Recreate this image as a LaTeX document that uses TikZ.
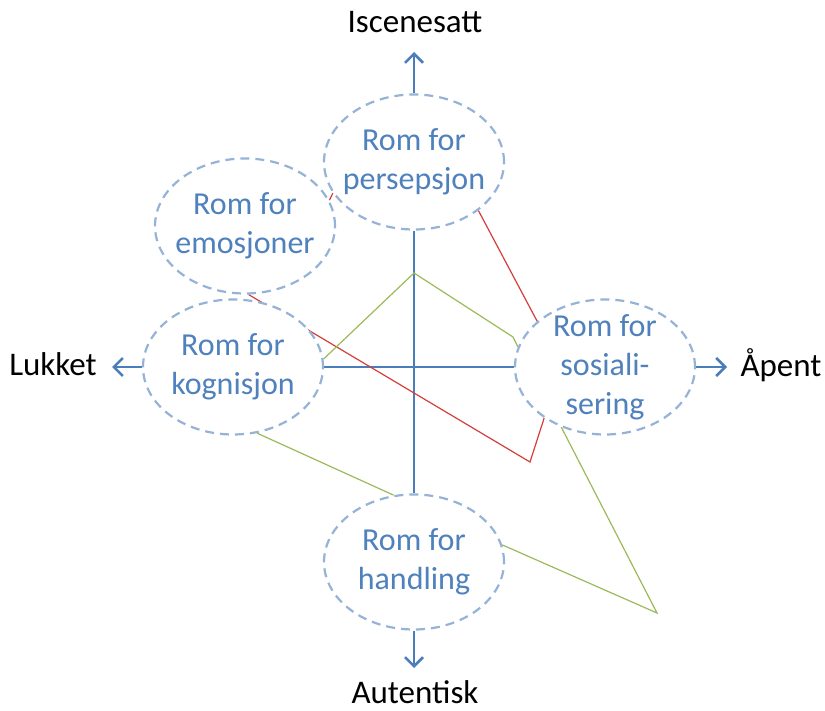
\documentclass[tikz,border=0pt]{standalone}
\usepackage{fontspec}
\setmainfont{Carlito}
\usetikzlibrary{shapes.geometric,arrows.meta,backgrounds}
\definecolor{axisblue}{RGB}{74,126,187}
\definecolor{ringblue}{RGB}{149,179,215}
\definecolor{labelblue}{RGB}{79,129,189}
\definecolor{linkgreen}{RGB}{155,187,89}
\definecolor{linkred}{RGB}{212,62,58}
\begin{document}
\begin{tikzpicture}[x=1pt,y=-1pt,
  roomtext/.style={align=center, text=labelblue, inner sep=0pt,
    font=\fontsize{32}{39}\selectfont},
  room/.style={ellipse, draw=ringblue, fill=white, line width=2.2pt,
    dash pattern=on 9pt off 6pt, minimum width=180pt, minimum height=135pt,
    inner sep=0pt, label={[roomtext]center:#1}},
  pole/.style={font=\fontsize{33}{38}\selectfont, text=black, inner sep=0pt, anchor=base},
  axis/.style={draw=axisblue, line width=2.5pt},
  axisarrow/.style={axis, -{Straight Barb[length=9pt,width=18pt]}},
  redlink/.style={draw=linkred, line width=1.2pt},
  greenlink/.style={draw=linkgreen, line width=1.2pt}]
\useasboundingbox (0,0) rectangle (825,711);

% the five rooms
\node[room={Rom for\\persepsjon}] (perc) at (414,162) {};
\node[room={Rom for\\emosjoner}] (emo) at (245,226) {};
\node[room={Rom for\\kognisjon}] (cog) at (233,367) {};
\node[room={Rom for\\sosiali-\\sering}] (soc) at (605,367) {};
\node[room={Rom for\\handling}] (act) at (414,562) {};

% pole labels
\node[pole] (up) at (415,33) {Iscenesatt};
\node[pole] (down) at (415,703) {Autentisk};
\node[pole] (left) at (53,376) {Lukket};
\node[pole] (right) at (781,377) {Åpent};

% arrow ends
\coordinate (upTip) at (414,52);
\coordinate (downTip) at (414,668);
\coordinate (leftTip) at (112,367);
\coordinate (rightTip) at (727,367);

% bend points
\coordinate (redKnee) at (530,462);
\coordinate (greenPeak) at (414,273);
\coordinate (greenShoulder) at (513,337);
\coordinate (greenFoot) at (657,613);

\begin{scope}[on background layer]
  % axes through the middle
  \draw[axis] (perc.south) -- (act.north);
  \draw[axis] (cog.east) -- (soc.west);
  % links between rooms
  \draw[redlink] (emo.17) -- (perc.201);
  \draw[redlink] (perc.-37) -- (soc.146);
  \draw[redlink] (emo.-87) -- (redKnee) -- (soc.220);
  \draw[greenlink] (cog.5) -- (greenPeak) -- (greenShoulder) -- (soc.167);
  \draw[greenlink] (cog.-70) -- (act.107);
  \draw[greenlink] (act.11) -- (greenFoot) -- (soc.234);
\end{scope}

% outward arrows
\draw[axisarrow] (perc.north) -- (upTip);
\draw[axisarrow] (act.south) -- (downTip);
\draw[axisarrow] (cog.west) -- (leftTip);
\draw[axisarrow] (soc.east) -- (rightTip);
\end{tikzpicture}
\end{document}
